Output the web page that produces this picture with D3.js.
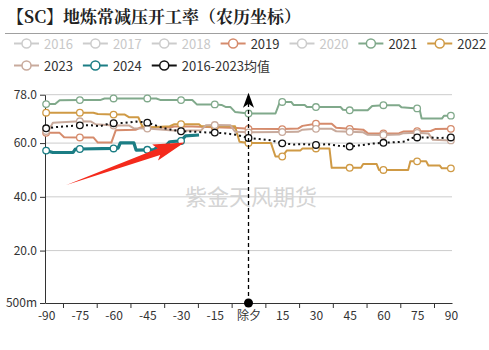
<!DOCTYPE html>
<html>
<head>
<meta charset="utf-8">
<script src="https://cdn.jsdelivr.net/npm/d3@7"></script>
<style>
  html, body { margin: 0; padding: 0; background: #fff; }
  svg { display: block; }
</style>
</head>
<body>
<svg id="chart" width="489" height="350"></svg>
<script>
// Crude-unit run rate by lunar day (day 0 = 除夕), step breakpoints [day, %]
const s2019 = [[-90,63.8],[-84,63.8],[-82,62.2],[-75,62.1],[-69,62.1],[-67,60.2],[-61,60.2],[-59,64.8],[-50,65.0],[-48,65.8],[-45,65.8],[-35,65.8],[-33,66.2],[-25,66.2],[-15,65.9],[-5,65.6],[0,65.3],[15,65.2],[22,65.4],[24,66.4],[30,67.2],[37,67.2],[39,65.7],[45,65.3],[51,65.0],[53,63.7],[60,63.6],[67,63.7],[69,64.3],[75,64.4],[81,64.5],[83,65.2],[90,65.3]];
const s2021 = [[-90,74.5],[-86,74.5],[-84,75.9],[-75,76.0],[-66,76.0],[-64,76.6],[-60,76.6],[-45,76.6],[-41,76.6],[-39,76.0],[-30,76.0],[-25,76.0],[-23,74.4],[-15,74.4],[-12,74.2],[-10,73.4],[-8,73.4],[-6,71.6],[0,71.0],[12,71.0],[14,75.4],[15,75.3],[19,75.3],[20,74.2],[25,74.2],[26,73.4],[30,73.4],[41,73.4],[42,72.4],[45,72.2],[53,72.2],[55,73.8],[60,74.1],[67,74.1],[68,73.3],[75,72.9],[76,72.9],[77,69.1],[86,69.1],[87,70.2],[90,70.2]];
const s2022 = [[-90,71.3],[-75,71.3],[-69,71.3],[-67,70.8],[-60,70.6],[-55,70.6],[-53,69.6],[-49,69.6],[-47,65.8],[-45,65.8],[-35,66.3],[-33,67.0],[-30,67.0],[-22,67.0],[-21,66.3],[-15,66.3],[-6,66.3],[-4,60.5],[0,60.0],[10,60.0],[12,55.0],[15,55.0],[17,57.2],[23,57.2],[24,58.0],[30,58.0],[36,58.0],[37,50.8],[45,50.8],[50,50.8],[51,52.2],[57,52.2],[58,50.0],[60,50.0],[71,50.0],[72,53.2],[75,53.2],[79,53.2],[80,51.7],[85,51.7],[86,50.6],[90,50.6]];
const s2023 = [[-90,64.5],[-89,64.5],[-87,67.6],[-75,68.1],[-70,68.0],[-68,67.0],[-60,66.5],[-53,66.5],[-51,65.5],[-45,65.4],[-35,64.8],[-30,64.6],[-21,64.8],[-19,66.6],[-15,66.7],[-8,66.6],[-6,64.2],[0,64.0],[15,64.1],[22,64.2],[24,65.0],[30,65.3],[37,65.3],[39,64.4],[45,64.2],[51,64.0],[53,63.1],[60,63.0],[67,63.2],[69,63.7],[75,63.8],[80,63.6],[82,61.2],[90,61.0]];
const s2024 = [[-90,57.2],[-87,56.5],[-78,56.5],[-77,57.8],[-75,57.8],[-60,58.0],[-58,58.1],[-57,60.1],[-51,60.1],[-50,57.4],[-45,57.5],[-42,57.6],[-40,58.8],[-37,58.8],[-35,60.5],[-30,60.8],[-28,62.7],[-22,63.0]];
const sAvg = [[-90,65.5],[-85,66.0],[-80,66.3],[-75,66.6],[-70,66.6],[-66,66.3],[-63,67.0],[-60,67.4],[-55,67.5],[-50,68.0],[-47,67.8],[-45,67.6],[-42,66.8],[-38,65.6],[-34,64.9],[-30,64.4],[-25,64.3],[-20,64.0],[-15,63.9],[-10,63.6],[-5,63.0],[0,61.9],[5,61.5],[10,61.0],[15,59.9],[20,59.5],[25,59.6],[30,59.3],[35,59.6],[40,59.0],[45,58.7],[50,59.2],[55,59.8],[60,60.1],[65,60.3],[70,60.6],[72,61.8],[75,62.1],[80,62.1],[85,61.9],[90,62.1]];

const yTicks = [0.5, 20, 40, 60, 78];
const xLabelDays = [-90,-75,-60,-45,-30,-15,0,15,30,45,60,75,90];
const xTickDays = [-82.5,-67.5,-52.5,-37.5,-22.5,-7.5,7.5,22.5,37.5,52.5,67.5,82.5];

const legendNames = ["2016","2017","2018","2019","2020","2021","2022","2023","2024","2016-2023均值"];
const legendColors = ["#cccccc","#cccccc","#cccccc","#d58b6c","#cccccc","#80a98b","#cf9a45","#c8aa9c","#1b7d84","#111111"];
const legendActive = [false,false,false,true,false,true,true,true,true,true];

const series = [
  { data: s2019, color: "#d58b6c", width: 2 },
  { data: s2021, color: "#80a98b", width: 2 },
  { data: s2022, color: "#cf9a45", width: 2 },
  { data: s2023, color: "#c8aa9c", width: 2 },
  { data: s2024, color: "#1b7d84", width: 3.2 },
  { data: sAvg,  color: "#111111", width: 2, dash: "2,3" }
];

// Annotation arrow, in data space (tail -> tip)
const arrowTail = [-81, 44.4];
const arrowTip = [-28.5, 60.2];

const FONT = "'Noto Sans CJK SC', 'Microsoft YaHei', sans-serif";

const svg = d3.select("#chart");
svg.append("rect").attr("width", 489).attr("height", 350).attr("fill", "#fff");

const x = d3.scaleLinear().domain([-90.5, 90.5]).range([45, 452]);
const y = d3.scaleLinear().domain([0.5, 78]).range([303, 94.7]);

// Title
svg.append("text")
  .attr("x", 7).attr("y", 23)
  .attr("font-family", "'Noto Serif CJK SC', 'Noto Sans CJK SC', serif")
  .attr("font-weight", "bold").attr("font-size", 17).attr("fill", "#222")
  .text("【SC】地炼常减压开工率（农历坐标）");
svg.append("line")
  .attr("x1", 5).attr("x2", 488).attr("y1", 33.5).attr("y2", 33.5)
  .attr("stroke", "#a0a0a0").attr("stroke-width", 1);

// Legend
const legend = svg.append("g");
let lx = 14, ly = 43.5;
legendNames.forEach((name, i) => {
  const g = legend.append("g");
  const t = g.append("text")
    .attr("font-family", FONT).attr("font-size", 13)
    .attr("fill", legendActive[i] ? "#333" : "#c8c8c8")
    .attr("dominant-baseline", "central")
    .text(name);
  const w = 30 + t.node().getComputedTextLength();
  if (lx + w > 489) { lx = 14; ly += 22; }
  t.attr("x", lx + 30).attr("y", ly);
  g.append("line").attr("x1", lx).attr("x2", lx + 25).attr("y1", ly).attr("y2", ly)
    .attr("stroke", legendColors[i]).attr("stroke-width", 2);
  g.append("circle").attr("cx", lx + 12.5).attr("cy", ly).attr("r", 4.5)
    .attr("fill", "#fff").attr("stroke", legendColors[i]).attr("stroke-width", 1.5);
  lx += w + 10;
});

// Grid
svg.append("g").selectAll("line")
  .data(yTicks.filter(v => v > 1))
  .join("line")
  .attr("x1", 45).attr("x2", 452)
  .attr("y1", d => y(d)).attr("y2", d => y(d))
  .attr("stroke", "#cccccc").attr("stroke-width", 1);

// Watermark
svg.append("text")
  .attr("x", 185).attr("y", 205)
  .attr("font-family", FONT).attr("font-size", 22)
  .attr("fill", "#d4d4d4")
  .text("紫金天风期货");

// Axes
const yFmt = v => v < 1 ? d3.format("~s")(v) : d3.format(".1f")(v);
const yAxis = svg.append("g").attr("transform", "translate(45,0)")
  .call(d3.axisLeft(y).tickValues(yTicks).tickFormat(yFmt).tickSize(5).tickSizeOuter(0).tickPadding(3));
const xAxis = svg.append("g").attr("transform", "translate(0,303)")
  .call(d3.axisBottom(x).tickValues(xTickDays).tickFormat("").tickSize(5).tickSizeOuter(0));
const xLabels = svg.append("g").attr("transform", "translate(0,303)")
  .call(d3.axisBottom(x).tickValues(xLabelDays).tickFormat(d => d === 0 ? "除夕" : String(d)).tickSize(0).tickPadding(8));
xLabels.select(".domain").remove();
[yAxis, xAxis, xLabels].forEach(a => {
  a.selectAll("path, line").attr("stroke", "#333");
  a.selectAll("text").attr("font-family", FONT).attr("font-size", 12).attr("fill", "#333");
});

// Series
const line = d3.line().x(d => x(d[0])).y(d => y(d[1]));
series.forEach(s => {
  const g = svg.append("g");
  g.append("path").datum(s.data)
    .attr("d", line).attr("fill", "none")
    .attr("stroke", s.color).attr("stroke-width", s.width)
    .attr("stroke-linejoin", "round")
    .attr("stroke-dasharray", s.dash || null);
  g.selectAll("circle").data(s.data.filter(d => d[0] % 15 === 0))
    .join("circle")
    .attr("cx", d => x(d[0])).attr("cy", d => y(d[1])).attr("r", 3.3)
    .attr("fill", "#fff").attr("stroke", s.color).attr("stroke-width", 1.3);
});

// 除夕 marker line with arrow
const x0 = x(0);
svg.append("line")
  .attr("x1", x0).attr("x2", x0).attr("y1", y(0.5)).attr("y2", y(78) + 4)
  .attr("stroke", "#000").attr("stroke-width", 1.3).attr("stroke-dasharray", "4,3");
svg.append("path")
  .attr("transform", `translate(${x0},${y(78) - 2})`)
  .attr("d", "M0,0 L5.5,15 L0,11 L-5.5,15 Z")
  .attr("fill", "#000");
svg.append("circle").attr("cx", x0).attr("cy", y(0.5)).attr("r", 4.5).attr("fill", "#000");

// Red annotation arrow
const ax0 = x(arrowTail[0]), ay0 = y(arrowTail[1]);
const ax1 = x(arrowTip[0]), ay1 = y(arrowTip[1]);
const L = Math.hypot(ax1 - ax0, ay1 - ay0);
const ang = Math.atan2(ay1 - ay0, ax1 - ax0) * 180 / Math.PI;
const pts = [[0,0],[L-27,-3.5],[L-31,-9],[L,0],[L-31,8],[L-27,3.5]];
svg.append("path")
  .attr("transform", `translate(${ax0},${ay0}) rotate(${ang})`)
  .attr("d", "M" + pts.map(p => p.join(",")).join("L") + "Z")
  .attr("fill", "#f42a1c");
</script>
</body>
</html>
